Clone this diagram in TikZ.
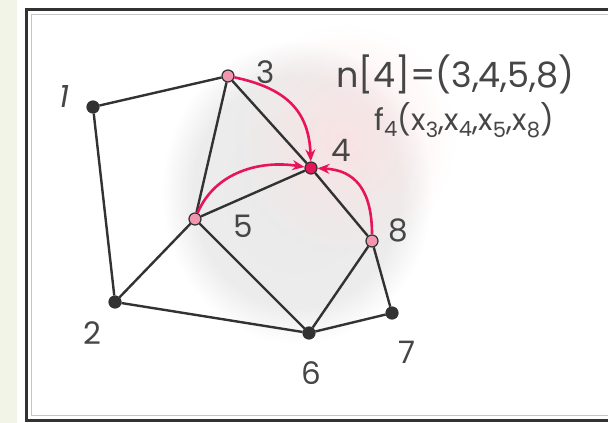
\documentclass[tikz,border=0pt]{standalone}
\usepackage{fontspec}
\setmainfont{Poppins}
\usetikzlibrary{arrows.meta, fadings}

\definecolor{rojo}{RGB}{232,20,90}
\definecolor{rosa}{RGB}{240,150,175}
\definecolor{gris}{RGB}{50,50,50}
\definecolor{crema}{RGB}{243,244,232}

\pgfdeclareradialshading{mancha}{\pgfpoint{0bp}{0bp}}{%
  color(0bp)=(gray!16); color(19bp)=(gray!15); color(25bp)=(white); color(50bp)=(white)}
\tikzfading[name=difuso, inner color=transparent!30, outer color=transparent!100]

\tikzset{
  punto/.style={circle, fill=gris, draw=gris, line width=1.2pt, inner sep=0pt, minimum size=12pt},
  vecino/.style={punto, fill=rosa},
  centro/.style={punto, fill=rojo},
  arista/.style={line width=2.4pt, gris},
  flecha/.style={line width=2.6pt, rojo, -{Stealth[length=12pt,width=10pt]}},
  etiqueta/.style={font=\fontsize{31}{33}\selectfont, text=gris!90, inner sep=0pt}
}

\begin{document}
\begin{tikzpicture}[x=1pt, y=-1pt]
  \useasboundingbox (0,0) rectangle (608,423);
  \fill[white] (0,0) rectangle (608,423);
  \fill[crema] (0,0) rectangle (17,423);

  % Marco
  \draw[gris, line width=3pt] (620,9) -- (26,9) -- (26,420) -- (620,420);
  \draw[gray!45, line width=1pt] (620,14) -- (31,14) -- (31,415) -- (620,415);

  % Vecindario difuso
  \shade[shading=mancha] (297,192) ellipse (136 and 152);
  \fill[red!12, path fading=difuso] (345,140) ellipse (110 and 115);

  % Puntos
  \node[punto]  (n1) at (93,107) {};
  \node[punto]  (n2) at (115,302) {};
  \node[vecino] (n3) at (228,76) {};
  \node[centro] (n4) at (311,168) {};
  \node[vecino] (n5) at (195,219) {};
  \node[punto]  (n6) at (309,333) {};
  \node[punto]  (n7) at (392,313) {};
  \node[vecino] (n8) at (372,241) {};

  % Aristas
  \foreach \a/\b in {1/3, 1/2, 2/5, 2/6, 3/5, 3/4, 4/5, 4/8, 5/6, 6/8, 6/7, 7/8}
    \draw[arista] (n\a) -- (n\b);

  % Flechas hacia el nodo 4
  \draw[flecha] (n3) .. controls (285,88) and (309,110) .. (n4);
  \draw[flecha] (n5) .. controls (215,172) and (260,160) .. (n4);
  \draw[flecha] (n8) .. controls (372,190) and (355,170) .. (n4);

  % Etiquetas
  \node[etiqueta] (l1) at (64,97)  {\textit{1}};
  \node[etiqueta] (l2) at (92,333) {2};
  \node[etiqueta] (l3) at (266,72) {3};
  \node[etiqueta] (l4) at (341,150) {4};
  \node[etiqueta] (l5) at (243,226) {5};
  \node[etiqueta] (l6) at (311,373) {6};
  \node[etiqueta] (l7) at (407,352) {7};
  \node[etiqueta] (l8) at (398,230) {8};

  \node[etiqueta, anchor=west, font=\fontsize{35}{37}\selectfont] (vec) at (336,74) {n[4]=(3,4,5,8)};
  \node[etiqueta, anchor=west, font=\fontsize{30}{32}\selectfont] (fun) at (374,120)
    {f\textsubscript{4}(x\textsubscript{3},x\textsubscript{4},x\textsubscript{5},x\textsubscript{8})};
\end{tikzpicture}
\end{document}
